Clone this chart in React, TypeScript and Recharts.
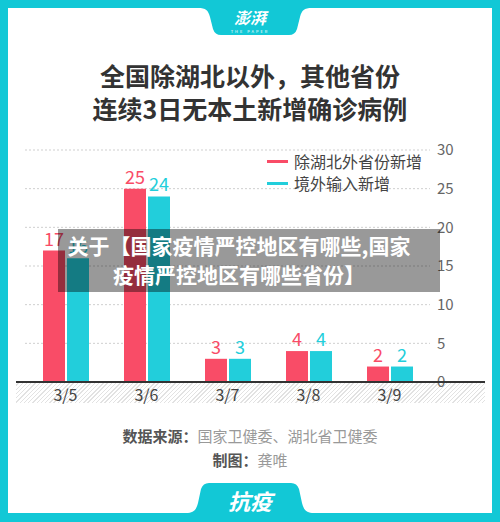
import React from 'react';
import { BarChart, Bar, XAxis, YAxis, CartesianGrid, LabelList } from 'recharts';

const categories = ['3/5', '3/6', '3/7', '3/8', '3/9'];
const domesticOutsideHubei = [17, 25, 3, 4, 2];
const importedCases = [16, 24, 3, 4, 2];
const yTicks = [0, 5, 10, 15, 20, 25, 30];
const legendLabels = ['除湖北外省份新增', '境外输入新增'];

const TEAL = '#12c8d6';
const RED = '#f94c67';
const CYAN = '#22cedb';
const FONT = "'Noto Sans CJK SC', 'Noto Sans', sans-serif";

const data = categories.map((date, i) => ({
  date,
  domestic: domesticOutsideHubei[i],
  imported: importedCases[i]
}));

const App: React.FC = () => {
  return (
    <div
      style={{
        position: 'absolute',
        left: 0,
        top: 0,
        width: 500,
        height: 522,
        background: TEAL,
        fontFamily: FONT,
        overflow: 'hidden'
      }}
    >
      {/* white panel */}
      <div style={{ position: 'absolute', left: 8, top: 8, width: 484, height: 505, background: '#fff' }} />

      {/* tabs */}
      <svg width={500} height={522} style={{ position: 'absolute', left: 0, top: 0 }}>
        <path
          d="M 198 8 C 206 8 208 10 210 17 L 213 29 Q 215 35 221 35 L 289 35 Q 295 35 297 29 L 300 17 C 302 10 304 8 312 8 Z"
          fill={TEAL}
        />
        <path
          d="M 186 513 C 194 513 196 510 198 503 L 201 489 Q 203 483 209 483 L 291 483 Q 297 483 299 489 L 302 503 C 304 510 306 513 314 513 Z"
          fill={TEAL}
        />
      </svg>
      <div
        style={{
          position: 'absolute', left: 200, width: 100, top: 8, textAlign: 'center',
          color: '#fff', fontSize: 16, fontWeight: 700, fontStyle: 'italic', lineHeight: '19px'
        }}
      >
        澎湃
      </div>
      <div
        style={{
          position: 'absolute', left: 200, width: 100, top: 29, textAlign: 'center',
          color: '#fff', fontSize: 4, letterSpacing: 2, lineHeight: '4px'
        }}
      >
        THE PAPER
      </div>

      {/* title */}
      <div
        style={{
          position: 'absolute', left: 0, width: 500, top: 59, textAlign: 'center',
          color: '#333', fontSize: 25, fontWeight: 700, lineHeight: '33px'
        }}
      >
        <div>全国除湖北以外，其他省份</div>
        <div>连续3日无本土新增确诊病例</div>
      </div>

      {/* hatched strip + baseline */}
      <div
        style={{
          position: 'absolute', left: 16, top: 382, width: 469, height: 21,
          background: 'repeating-linear-gradient(135deg, #fff 0px, #fff 2px, #e2e2e2 2px, #e2e2e2 3px)'
        }}
      />

      <div style={{ position: 'absolute', left: 0, top: 0 }}>
        <BarChart
          width={500}
          height={420}
          data={data}
          margin={{ top: 150, right: 30, left: 25, bottom: 16 }}
          barSize={22}
          barGap={2}
        >
          <CartesianGrid horizontal vertical={false} strokeDasharray="2 2" stroke="#cfcfcf" />
          <XAxis
            dataKey="date"
            axisLine={false}
            tickLine={false}
            height={22}
            tick={{ fill: '#444', fontSize: 16, fontFamily: FONT }}
          />
          <YAxis
            orientation="right"
            domain={[0, 30]}
            ticks={yTicks}
            width={40}
            axisLine={false}
            tickLine={false}
            tickSize={0}
            tickMargin={7}
            tick={{ fill: '#666', fontSize: 15, fontFamily: FONT, textAnchor: 'start' }}
          />
          <Bar dataKey="domestic" fill={RED} isAnimationActive={false}>
            <LabelList dataKey="domestic" position="top" offset={5} fill={RED} fontSize={18} fontFamily={FONT} />
          </Bar>
          <Bar dataKey="imported" fill={CYAN} isAnimationActive={false}>
            <LabelList dataKey="imported" position="top" offset={5} fill={CYAN} fontSize={18} fontFamily={FONT} />
          </Bar>
        </BarChart>
      </div>

      <div style={{ position: 'absolute', left: 16, top: 381, width: 469, height: 2, background: '#333' }} />

      {/* legend */}
      {legendLabels.map((label, i) => (
        <div
          key={label}
          style={{ position: 'absolute', left: 267, top: 150 + i * 22, height: 22, display: 'flex', alignItems: 'center' }}
        >
          <div style={{ width: 21, height: 3, background: i === 0 ? RED : CYAN, marginRight: 6 }} />
          <span style={{ fontSize: 16, color: '#444', lineHeight: '22px' }}>{label}</span>
        </div>
      ))}

      {/* overlay banner */}
      <div style={{ position: 'absolute', left: 58, top: 229, width: 382, height: 63, background: 'rgba(0,0,0,0.4)' }} />
      <div
        style={{
          position: 'absolute', left: 38, width: 402, top: 231, textAlign: 'center',
          color: '#fff', fontSize: 21, fontWeight: 700, lineHeight: '29px'
        }}
      >
        <div>关于【国家疫情严控地区有哪些,国家</div>
        <div>疫情严控地区有哪些省份】</div>
      </div>

      {/* footer */}
      <div
        style={{
          position: 'absolute', left: 0, width: 500, top: 424, textAlign: 'center',
          fontSize: 15, lineHeight: '24px'
        }}
      >
        <div>
          <span style={{ color: '#555', fontWeight: 700 }}>数据来源：</span>
          <span style={{ color: '#999' }}>国家卫健委、湖北省卫健委</span>
        </div>
        <div>
          <span style={{ color: '#555', fontWeight: 700 }}>制图：</span>
          <span style={{ color: '#999' }}>龚唯</span>
        </div>
      </div>
      <div
        style={{
          position: 'absolute', left: 200, width: 100, top: 486, textAlign: 'center',
          color: '#fff', fontSize: 22, fontWeight: 700, fontStyle: 'italic', lineHeight: '28px'
        }}
      >
        抗疫
      </div>
    </div>
  );
};

export default App;
